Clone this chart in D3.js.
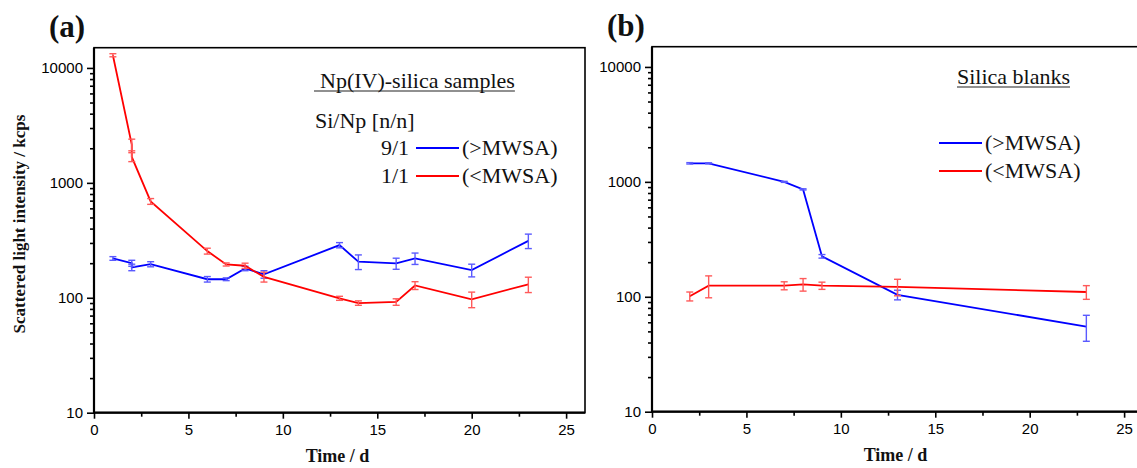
<!DOCTYPE html>
<html>
<head>
<meta charset="utf-8">
<script src="https://cdn.jsdelivr.net/npm/d3@7"></script>
<style>
  body { margin: 0; background: #fff; }
  .tick text { font-family: "Liberation Sans", Arial, sans-serif; font-size: 15px; fill: #000; }
  .serif { font-family: "Liberation Serif", "Times New Roman", serif; fill: #111; }
</style>
</head>
<body>
<svg id="chart" width="1137" height="468"></svg>
<script>
// panel (a): Np(IV)-silica samples
const npRedDays = [1, 2, 2, 3, 6, 7, 8, 9, 13, 14, 16, 17, 20, 23]
const npRedVals = [12900, 2150, 1680, 690, 255, 195, 190, 152, 99, 90, 92, 128, 97, 131]
const npRedErr  = [400, 250, 150, 40, 15, 6, 10, 15, 4, 4, 6, 10, 15, 20]

const npBlueDays = [1, 2, 2, 3, 6, 7, 8, 9, 13, 14, 16, 17, 20, 23]
const npBlueVals = [220, 200, 184, 196, 145, 145, 180, 160, 287, 206, 199, 220, 174, 313]
const npBlueErr  = [8, 12, 12, 10, 8, 4, 8, 12, 15, 30, 22, 25, 22, 45]

// panel (b): silica blanks
const blankBlueDays = [2, 3, 7, 8, 9, 13, 23]
const blankBlueVals = [1450, 1450, 1000, 860, 225, 104, 55]
const blankBlueErr  = [20, 15, 10, 10, 8, 10, 14]

const blankRedDays = [2, 3, 7, 8, 9, 13, 23]
const blankRedVals = [101, 125, 125, 128, 125, 122, 110]
const blankRedErr  = [9, 27, 10, 16, 9, 20, 15]

const xTicks = [0, 5, 10, 15, 20, 25]
const xMinor = [2.5, 7.5, 12.5, 17.5, 22.5]
const yTicks = [10, 100, 1000, 10000]

const size = {width: 491, height: 365}
const svg = d3.select('#chart')

const zip = (days, vals, err) => days.map((d, i) => ({x: d, y: vals[i], e: err[i]}))

function drawPanel(left, top, label, series){
    const g = svg.append('g').attr('transform', `translate(${left}, ${top})`)

    const x = d3.scaleLinear().domain([0, 26]).range([0, size.width])
    const y = d3.scaleLog().domain([10, 15000]).range([size.height, 0])

    const yMinor = []
    ;[10, 100, 1000].forEach(dec => { for (let k = 2; k <= 9; k++) yMinor.push(k * dec) })

    // minor ticks first, then major ones on top
    g.append('g').call(d3.axisLeft(y).tickValues(yMinor).tickSize(4).tickSizeOuter(0).tickFormat(''))
    .call(a => a.select('.domain').remove())
    g.append('g').call(d3.axisLeft(y).tickValues(yTicks).tickSize(7).tickSizeOuter(0).tickFormat(d3.format('d')).tickPadding(4))
    .call(a => a.select('.domain').remove())

    g.append('g').attr('transform', `translate(0, ${size.height})`)
    .call(d3.axisBottom(x).tickValues(xMinor).tickSize(4).tickSizeOuter(0).tickFormat(''))
    .call(a => a.select('.domain').remove())
    g.append('g').attr('transform', `translate(0, ${size.height})`)
    .call(d3.axisBottom(x).tickValues(xTicks).tickSize(6).tickSizeOuter(0).tickPadding(6))
    .call(a => a.select('.domain').remove())

    g.selectAll('.tick line').attr('stroke', '#000').attr('stroke-width', 1.6)

    // frame
    g.append('rect').attr('width', size.width).attr('height', size.height)
    .attr('fill', 'none').attr('stroke', '#000').attr('stroke-width', 1.6)
    g.append('path').attr('d', `M0,0V${size.height}H${size.width}`)
    .attr('fill', 'none').attr('stroke', '#000').attr('stroke-width', 2.2)

    const line = d3.line().x(d => x(d.x)).y(d => y(d.y))

    series.forEach(s => {
        g.append('path').datum(s.data)
        .attr('d', line)
        .attr('fill', 'none')
        .attr('stroke', s.color)
        .attr('stroke-width', 1.8)

        const bars = g.selectAll(null).data(s.data).enter().append('g')
        .attr('stroke', s.errColor).attr('stroke-width', 1.4)
        bars.append('line')
        .attr('x1', d => x(d.x)).attr('x2', d => x(d.x))
        .attr('y1', d => y(d.y + d.e)).attr('y2', d => y(d.y - d.e))
        bars.append('line')
        .attr('x1', d => x(d.x) - 3.5).attr('x2', d => x(d.x) + 3.5)
        .attr('y1', d => y(d.y + d.e)).attr('y2', d => y(d.y + d.e))
        bars.append('line')
        .attr('x1', d => x(d.x) - 3.5).attr('x2', d => x(d.x) + 3.5)
        .attr('y1', d => y(d.y - d.e)).attr('y2', d => y(d.y - d.e))
    })

    g.append('text').attr('class', 'serif')
    .attr('x', size.width / 2 - 2).attr('y', size.height + 49)
    .attr('text-anchor', 'middle')
    .style('font-size', '18px').style('font-weight', 'bold')
    .text('Time / d')

    svg.append('text').attr('class', 'serif')
    .attr('x', left - 45).attr('y', top - 11)
    .style('font-size', '31px').style('font-weight', 'bold')
    .text(label)

    return g
}

function underlined(g, x, y, txt, extra){
    const t = g.append('text').attr('class', 'serif')
    .attr('x', x).attr('y', y)
    .style('font-size', '22px')
    .text(txt)
    const w = t.node().getComputedTextLength()
    g.append('line').attr('x1', x - extra).attr('x2', x + w)
    .attr('y1', y + 3).attr('y2', y + 3)
    .attr('stroke', '#222').attr('stroke-width', 1.2)
}

function legendRow(g, x, y, color, prefix, txt){
    if (prefix) {
        g.append('text').attr('class', 'serif')
        .attr('x', x - 7).attr('y', y + 7)
        .attr('text-anchor', 'end')
        .style('font-size', '22px').text(prefix)
    }
    g.append('line').attr('x1', x).attr('x2', x + 43)
    .attr('y1', y).attr('y2', y)
    .attr('stroke', color).attr('stroke-width', 1.8)
    g.append('text').attr('class', 'serif')
    .attr('x', x + 46).attr('y', y + 7)
    .style('font-size', '22px').text(txt)
}

const blue = '#0000ff', red = '#ff0000'
const blueErr = '#5a5aff', redErr = '#ff5a5a'

drawPanel(94, 47.7, '(a)', [
    {data: zip(npBlueDays, npBlueVals, npBlueErr), color: blue, errColor: blueErr},
    {data: zip(npRedDays, npRedVals, npRedErr), color: red, errColor: redErr}
])
drawPanel(652, 46.7, '(b)', [
    {data: zip(blankBlueDays, blankBlueVals, blankBlueErr), color: blue, errColor: blueErr},
    {data: zip(blankRedDays, blankRedVals, blankRedErr), color: red, errColor: redErr}
])

// y axis title, only on the left panel
svg.append('text').attr('class', 'serif')
.attr('transform', 'translate(25, 224) rotate(-90)')
.attr('text-anchor', 'middle')
.style('font-size', '17px').style('font-weight', 'bold')
.text('Scattered light intensity / kcps')

// legends
const legA = svg.append('g')
underlined(legA, 320, 88, 'Np(IV)-silica samples', 6)
legA.append('text').attr('class', 'serif').attr('x', 315).attr('y', 128)
.style('font-size', '22px').text('Si/Np [n/n]')
legendRow(legA, 416, 148, blue, '9/1', '(>MWSA)')
legendRow(legA, 416, 176, red, '1/1', '(<MWSA)')

const legB = svg.append('g')
underlined(legB, 957, 84, 'Silica blanks', 0)
legendRow(legB, 939, 143, blue, null, '(>MWSA)')
legendRow(legB, 939, 171, red, null, '(<MWSA)')
</script>
</body>
</html>
